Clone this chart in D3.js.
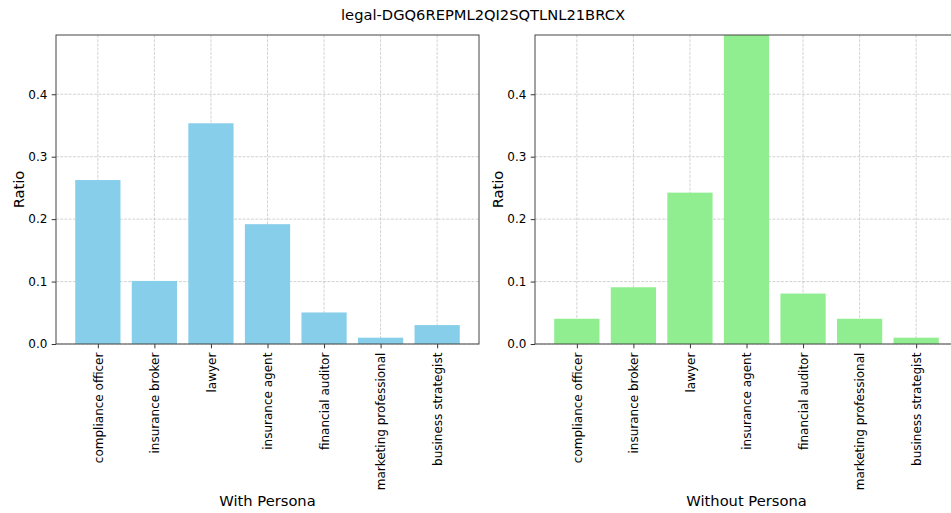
<!DOCTYPE html>
<html>
<head>
<meta charset="utf-8">
<script src="https://cdn.jsdelivr.net/npm/d3@7"></script>
<style>
  html, body { margin: 0; padding: 0; background: #fff; }
  svg { display: block; font-family: "DejaVu Sans", sans-serif; }
</style>
</head>
<body>
<svg id="chart" width="951" height="513"></svg>
<script>
const title = "legal-DGQ6REPML2QI2SQTLNL21BRCX";
const categories = ["compliance officer", "insurance broker", "lawyer", "insurance agent", "financial auditor", "marketing professional", "business strategist"];
const withPersona = [0.2626, 0.1010, 0.3535, 0.1919, 0.0505, 0.0101, 0.0303];
const withoutPersona = [0.0404, 0.0909, 0.2424, 0.4949, 0.0808, 0.0404, 0.0101];
const yTicks = [0.0, 0.1, 0.2, 0.3, 0.4];
const panelTitles = ["With Persona", "Without Persona"];
const colors = ["#87CEEB", "#90EE90"];

(function () {
const svg = d3.select("#chart");
svg.append("text").attr("x", 483).attr("y", 20).attr("text-anchor", "middle")
  .attr("font-size", 14.7).attr("fill", "#000").text(title);

const yMax = d3.max([...withPersona, ...withoutPersona]);
const panels = [
  { left: 56, values: withPersona },
  { left: 535, values: withoutPersona }
];
const W = 423, plotTop = 35, plotBottom = 344;

panels.forEach((p, i) => {
  const g = svg.append("g");
  const n = categories.length;
  const x = d3.scaleLinear().domain([-0.74, n - 1 + 0.74]).range([p.left, p.left + W]);
  const y = d3.scaleLinear().domain([0, yMax]).range([plotBottom, plotTop]);
  const clipId = "clip" + i;
  svg.append("clipPath").attr("id", clipId).append("rect")
    .attr("x", p.left).attr("y", plotTop).attr("width", W).attr("height", plotBottom - plotTop);

  // grid
  const grid = g.append("g").attr("stroke", "#b0b0b0").attr("stroke-opacity", 0.7)
    .attr("stroke-width", 0.8).attr("stroke-dasharray", "2.96,1.28");
  categories.forEach((c, k) => {
    grid.append("line").attr("x1", x(k)).attr("x2", x(k)).attr("y1", plotTop).attr("y2", plotBottom);
  });
  yTicks.forEach(t => {
    grid.append("line").attr("x1", p.left).attr("x2", p.left + W).attr("y1", y(t)).attr("y2", y(t));
  });

  // bars
  g.append("g").attr("clip-path", `url(#${clipId})`).selectAll("rect").data(p.values).join("rect")
    .attr("x", (d, k) => x(k - 0.4))
    .attr("width", (d, k) => x(k + 0.4) - x(k - 0.4))
    .attr("y", d => y(d))
    .attr("height", d => plotBottom - y(d))
    .attr("fill", colors[i]);

  // axes
  const yAxis = d3.axisLeft(y).tickValues(yTicks).tickFormat(d3.format(".1f")).tickSize(4.3).tickPadding(4.3);
  const ya = g.append("g").attr("transform", `translate(${p.left},0)`).call(yAxis);
  ya.select(".domain").remove();
  ya.selectAll("line").attr("stroke", "#333");
  ya.selectAll("text").attr("font-size", 12).attr("fill", "#000").attr("font-family", "DejaVu Sans");

  const xs = d3.scalePoint().domain(categories).range([x(0), x(n - 1)]);
  const xAxis = d3.axisBottom(xs).tickSize(4.3).tickPadding(4.3);
  const xa = g.append("g").attr("transform", `translate(0,${plotBottom})`).call(xAxis);
  xa.select(".domain").remove();
  xa.selectAll("line").attr("stroke", "#333");
  xa.selectAll("text").attr("font-size", 12).attr("fill", "#000").attr("font-family", "DejaVu Sans")
    .attr("transform", "rotate(-90)").attr("text-anchor", "end")
    .attr("x", -8.6).attr("y", 0).attr("dy", "0.35em");

  // spines
  g.append("rect").attr("x", p.left).attr("y", plotTop).attr("width", W).attr("height", plotBottom - plotTop)
    .attr("fill", "none").attr("stroke", "#444").attr("stroke-width", 1);

  // labels
  g.append("text").attr("transform", `translate(${p.left - 32},${(plotTop + plotBottom) / 2}) rotate(-90)`)
    .attr("text-anchor", "middle").attr("font-size", 14.7).text("Ratio");
  g.append("text").attr("x", p.left + W / 2).attr("y", 506).attr("text-anchor", "middle")
    .attr("font-size", 14.7).text(panelTitles[i]);
});
})();
</script>
</body>
</html>
